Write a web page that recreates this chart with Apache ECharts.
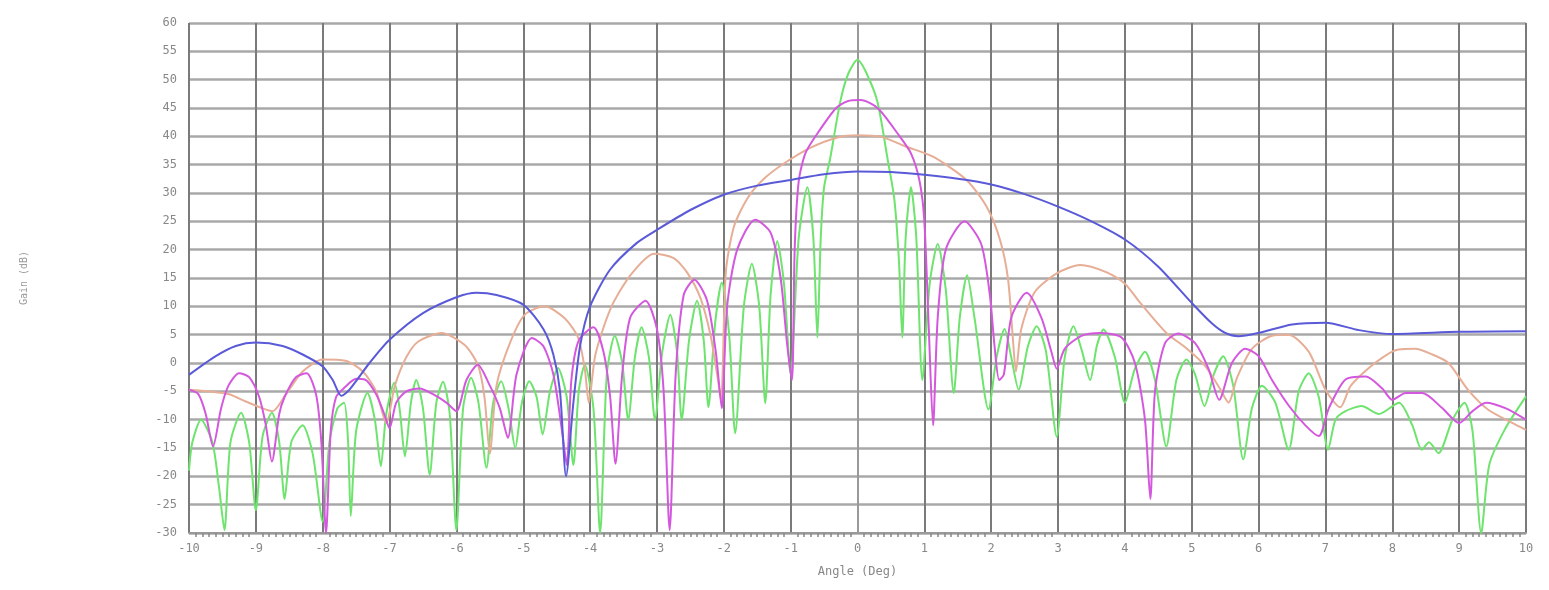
<!DOCTYPE html>
<html>
<head>
<meta charset="utf-8">
<script src="https://cdn.jsdelivr.net/npm/echarts@6/dist/echarts.min.js"></script>
<style>
  html, body { margin: 0; padding: 0; background: #fff; }
  #chart { width: 1549px; height: 590px; }
</style>
</head>
<body>
<div id="chart"></div>
<script>
// angle (deg), gain (dB)
const blueData = [
  [-10,-2.1],[-9.6,1.2],[-9.3,3],[-9,3.6],[-8.6,3],[-8.3,1.5],[-8,-0.6],[-7.85,-3],[-7.72,-5.8],[-7.6,-4.7],
  [-7.3,0],[-7,4.1],[-6.5,8.8],[-6,11.6],[-5.7,12.4],[-5.4,12],[-5,10.3],[-4.7,6],[-4.55,1.5],[-4.45,-5],
  [-4.36,-20],[-4.25,-7],[-4.15,3],[-4,10],[-3.7,16.5],[-3.3,21.2],[-3,23.5],[-2.5,27],[-2,29.7],[-1.5,31.3],
  [-1,32.3],[-0.5,33.3],[0,33.8],[0.5,33.7],[1,33.2],[1.5,32.5],[2,31.5],[2.5,29.8],[3,27.6],[3.5,25],
  [4,21.8],[4.5,17],[5,10.6],[5.3,7],[5.5,5.3],[5.7,4.7],[6,5.3],[6.5,6.8],[7,7.1],[7.5,5.8],
  [8,5.1],[9,5.5],[10,5.6]
];
const magentaData = [
  [-10,-4.7],[-9.86,-5.5],[-9.75,-9],[-9.64,-14.7],[-9.52,-8],[-9.41,-4],[-9.25,-1.8],[-9.1,-2.5],[-8.95,-6],[-8.85,-11],
  [-8.76,-17.4],[-8.65,-9],[-8.57,-6],[-8.4,-2.5],[-8.24,-1.8],[-8.1,-5.5],[-8.02,-14],[-7.95,-30],[-7.88,-12],[-7.8,-6],
  [-7.67,-4.3],[-7.5,-2.8],[-7.37,-2.9],[-7.2,-5.5],[-7.08,-9],[-7,-11.5],[-6.9,-7],[-6.75,-5],[-6.55,-4.5],[-6.35,-5.5],
  [-6.15,-7],[-6,-8.5],[-5.85,-3],[-5.68,-0.3],[-5.5,-4],[-5.35,-8],[-5.23,-13.2],[-5.1,-2],[-4.87,4.4],[-4.7,3],
  [-4.55,-2],[-4.42,-12],[-4.35,-18],[-4.28,-3],[-4.17,4],[-3.95,6.3],[-3.8,2],[-3.7,-6],[-3.62,-17.8],[-3.52,-2],
  [-3.4,8],[-3.17,11],[-3,6],[-2.9,-5],[-2.81,-29.5],[-2.72,-2],[-2.6,12],[-2.44,14.7],[-2.25,11],[-2.12,2],
  [-2.03,-8],[-1.95,10],[-1.8,20],[-1.53,25.3],[-1.3,23],[-1.15,15],[-1.05,3],[-0.98,-3],[-0.94,20],[-0.88,32],
  [-0.78,37],[-0.6,40.5],[-0.32,45],[-0.15,46.2],[0.05,46.4],[0.3,45],[0.6,40.5],[0.8,37],[0.93,32],[1,25],
  [1.07,5],[1.13,-11],[1.2,8],[1.32,20],[1.6,25],[1.85,21],[1.98,12],[2.05,3],[2.12,-3],[2.19,-2],
  [2.3,8],[2.53,12.4],[2.75,8],[2.9,2],[2.98,-1],[3.1,2.5],[3.35,4.8],[3.63,5.3],[3.95,4.5],[4.15,0],
  [4.3,-10],[4.38,-24],[4.45,-5],[4.6,3.5],[4.8,5.2],[5.05,3.5],[5.25,-1],[5.41,-6.5],[5.6,0],[5.8,2.5],
  [6,1.2],[6.2,-3],[6.45,-7.5],[6.7,-11],[6.9,-12.9],[7.05,-8],[7.3,-2.9],[7.6,-2.4],[7.85,-4.5],[8,-6.5],
  [8.2,-5.3],[8.45,-5.3],[8.75,-8],[9,-10.6],[9.2,-8.5],[9.4,-7],[9.7,-8],[10,-10]
];
const orangeData = [
  [-10,-4.7],[-9.7,-5],[-9.4,-5.5],[-9.15,-6.8],[-8.9,-8],[-8.75,-8.5],[-8.55,-5.5],[-8.3,-1.5],[-8,0.6],[-7.66,0.4],
  [-7.4,-1.5],[-7.2,-5],[-7.05,-10.6],[-6.92,-4],[-6.75,1],[-6.57,3.8],[-6.22,5.3],[-5.88,3.2],[-5.68,-0.3],[-5.58,-6],
  [-5.5,-16],[-5.4,-4],[-5.2,3.5],[-4.98,8.5],[-4.68,10],[-4.38,7.9],[-4.18,4.5],[-4.08,-1],[-4.02,-7],[-3.92,1.5],
  [-3.69,9.7],[-3.39,15.6],[-3.04,19.3],[-2.75,18.5],[-2.55,16],[-2.35,11.5],[-2.2,5],[-2.1,-2],[-2.04,-6.5],[-1.97,16],
  [-1.85,24],[-1.65,29],[-1.4,32.5],[-1.1,35.2],[-0.7,38],[-0.3,39.8],[0,40.2],[0.36,39.9],[0.7,38.3],[1.13,36.4],
  [1.63,32.3],[1.93,27.6],[2.13,21.8],[2.25,15],[2.32,5],[2.37,-1.5],[2.45,6],[2.65,12.5],[2.98,15.8],[3.33,17.3],
  [3.73,16],[4,14],[4.23,10.6],[4.62,5.3],[4.92,2.6],[5.2,-0.5],[5.42,-4.5],[5.55,-7],[5.68,-2.5],[5.9,2.5],
  [6.2,4.8],[6.45,5],[6.75,2],[7,-4.7],[7.22,-7.8],[7.38,-4],[7.74,0],[8.09,2.4],[8.34,2.5],[8.6,1.5],
  [8.84,0],[9.13,-4.7],[9.43,-8.2],[9.83,-10.8],[10,-11.8]
];
const greenData = [
  [-10,-19],[-9.95,-14],[-9.82,-10],[-9.65,-14],[-9.55,-22],[-9.47,-29.5],[-9.38,-14],[-9.22,-8.8],[-9.1,-14],[-9,-26],
  [-8.9,-13],[-8.76,-8.8],[-8.65,-14],[-8.57,-24],[-8.47,-14],[-8.3,-11],[-8.15,-16],[-8,-28],[-7.9,-14],[-7.78,-8],
  [-7.68,-7],[-7.62,-14],[-7.58,-27],[-7.5,-12],[-7.33,-5.3],[-7.22,-10],[-7.13,-18.2],[-7.05,-9],[-6.93,-3.5],[-6.85,-8],
  [-6.77,-16.5],[-6.68,-7],[-6.6,-3],[-6.5,-8],[-6.4,-19.7],[-6.3,-7],[-6.2,-3.3],[-6.1,-9],[-6,-29.5],[-5.9,-8],
  [-5.78,-2.6],[-5.67,-7],[-5.55,-18.5],[-5.45,-7],[-5.33,-3.2],[-5.22,-8],[-5.12,-15],[-5.02,-7],[-4.91,-3.2],[-4.8,-6],
  [-4.71,-12.6],[-4.6,-5],[-4.48,-0.9],[-4.35,-6],[-4.25,-18],[-4.17,-5],[-4.08,-0.3],[-3.95,-8],[-3.85,-30],[-3.75,-2],
  [-3.63,4.8],[-3.52,0],[-3.43,-10],[-3.33,1],[-3.23,6.3],[-3.12,1],[-3.03,-10],[-2.92,2],[-2.8,8.5],[-2.7,2],
  [-2.63,-10],[-2.52,4],[-2.4,11],[-2.3,4],[-2.23,-7.8],[-2.13,7],[-2.03,14.2],[-1.92,5],[-1.83,-12.4],[-1.7,10],
  [-1.58,17.5],[-1.47,10],[-1.38,-7.1],[-1.3,12],[-1.2,21.5],[-1.1,14],[-1,-2],[-0.88,22],[-0.75,31],[-0.66,22],
  [-0.6,4.5],[-0.55,22],[-0.5,31],[-0.41,36],[-0.26,46],[-0.14,51],[0,53.5],[0.14,51],[0.3,46],[0.45,36],
  [0.55,29],[0.62,18],[0.67,4.5],[0.72,22],[0.8,31],[0.88,22],[0.97,-3],[1.08,14],[1.2,21],[1.32,13],
  [1.44,-5.3],[1.53,8],[1.64,15.5],[1.75,8],[1.96,-8.2],[2.08,1],[2.2,6],[2.3,1],[2.41,-4.7],[2.55,3],
  [2.68,6.5],[2.82,2],[2.98,-13],[3.1,1],[3.23,6.5],[3.36,2],[3.48,-3],[3.58,3],[3.68,5.9],[3.85,1],
  [4,-7],[4.15,-1],[4.3,2],[4.45,-3],[4.62,-14.7],[4.77,-3],[4.92,0.6],[5.05,-2],[5.19,-7.6],[5.33,-2],
  [5.47,1.2],[5.62,-4],[5.77,-17],[5.9,-8],[6.05,-4],[6.25,-7],[6.45,-15.3],[6.6,-5],[6.75,-1.8],[6.9,-6],
  [7.04,-15.3],[7.15,-10],[7.3,-8.5],[7.54,-7.6],[7.8,-9],[8.1,-7],[8.3,-11],[8.44,-15.3],[8.55,-14],[8.69,-15.9],
  [8.9,-10],[9.08,-7],[9.2,-12],[9.33,-30],[9.45,-18],[9.68,-11.8],[10,-5.9]
];

const labelFont = 'DejaVu Sans Mono';

function lineSeries(name, data, color, z) {
  return {
    name: name,
    type: 'line',
    data: data,
    smooth: 0.25,
    symbol: 'none',
    z: z,
    lineStyle: { color: color, width: 2 }
  };
}

const chart = echarts.init(document.getElementById('chart'));
chart.setOption({
  animation: false,
  backgroundColor: '#fff',
  grid: { left: 189, right: 23, top: 23, bottom: 57 },
  xAxis: {
    type: 'value',
    min: -10,
    max: 10,
    interval: 1,
    name: 'Angle (Deg)',
    nameLocation: 'middle',
    nameGap: 33,
    nameTextStyle: { color: '#888', fontSize: 12, fontFamily: labelFont },
    axisLine: { show: true, onZero: false, lineStyle: { color: '#999', width: 2 } },
    axisTick: { show: false },
    minorTick: { show: true, splitNumber: 10, length: 4, lineStyle: { color: '#888', width: 1.5 } },
    axisLabel: { color: '#888', fontSize: 12, fontFamily: labelFont, margin: 10 },
    splitLine: { show: true, lineStyle: { color: '#7a7a7a', width: 2 } }
  },
  yAxis: {
    type: 'value',
    min: -30,
    max: 60,
    interval: 5,
    name: 'Gain (dB)',
    nameLocation: 'middle',
    nameGap: 160,
    nameRotate: 90,
    nameTextStyle: { color: '#999', fontSize: 10, fontFamily: labelFont },
    axisLine: { show: true, lineStyle: { color: '#999', width: 2 } },
    axisTick: { show: false },
    axisLabel: { color: '#888', fontSize: 12, fontFamily: labelFont, margin: 12 },
    splitLine: { show: true, lineStyle: { color: '#a8a8a8', width: 2.5 } }
  },
  series: [
    lineSeries('green', greenData, '#6ee46e', 2),
    lineSeries('orange', orangeData, '#e6ae96', 3),
    lineSeries('magenta', magentaData, '#d458de', 4),
    lineSeries('blue', blueData, '#5a5ad8', 5)
  ]
});
</script>
</body>
</html>
